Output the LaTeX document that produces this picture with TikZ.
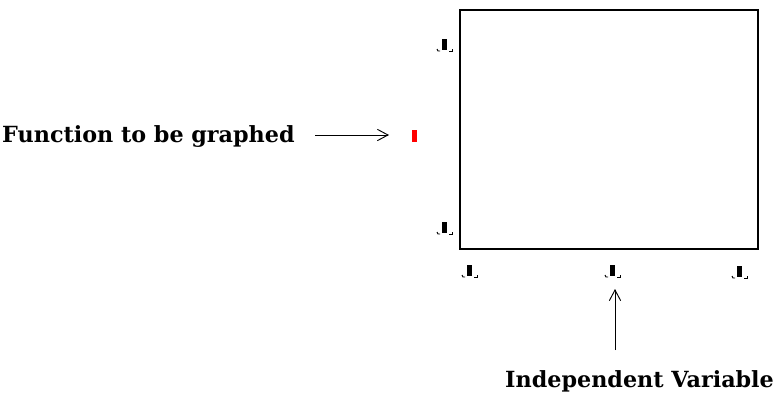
\documentclass[tikz,border=0pt]{standalone}
\usepackage{fontspec}
\setmainfont{DejaVu Serif}
\usepackage{tikz}
\usetikzlibrary{arrows.meta}

\tikzset{
  plotlabel/.style={font=\bfseries\fontsize{19}{22}\selectfont,inner sep=0pt},
  pointer/.style={draw=black,line width=0.8pt,-{Straight Barb[length=3.2mm,width=3.4mm]}},
  tickmark/.style={fill=black},
}

\begin{document}
\begin{tikzpicture}[x=0.03cm,y=-0.03cm]
		\useasboundingbox (0,0) rectangle (781,393);

		% plot frame
		\path[draw=black,line width=1.5pt] (460,10) rectangle (758,249);

		% small axis marks
		\foreach \mx/\my in {444/45, 444/228, 469/271, 612/271, 739/272} {
			\path[tickmark] (\mx-2.5,\my-6) rectangle (\mx+2.5,\my+5);
			\path[draw=black,line width=0.8pt] (\mx-7,\my+4) -- (\mx-6,\my+6) -- (\mx-4,\my+6);
			\path[draw=black,line width=0.8pt] (\mx+5,\my+6) -- (\mx+8,\my+6) -- (\mx+8,\my+4);
		}
		\path[fill=red] (412,130) rectangle (417,142);

		\node[plotlabel,anchor=west] (fun) at (2,137) {Function to be graphed};
		\node[plotlabel,anchor=west] (indep) at (505,381) {Independent Variable};

		\coordinate (funstart) at (315,135);
		\coordinate (funend) at (389,135);
		\coordinate (indstart) at (615,350);
		\coordinate (indend) at (615,289);

		\path[pointer] (funstart) -- (funend);
		\path[pointer] (indstart) -- (indend);
	\end{tikzpicture}
\end{document}
